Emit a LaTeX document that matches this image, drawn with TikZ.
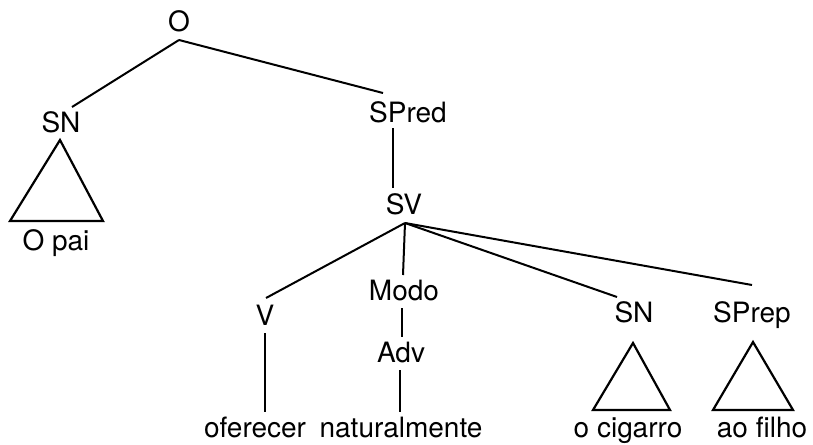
\documentclass[tikz,border=0pt]{standalone}
\usepackage{fontspec}
\setmainfont{TeX Gyre Heros}
\begin{document}
\begin{tikzpicture}[x=1pt,y=-1pt,
  lbl/.style={anchor=base,inner sep=0pt,font=\fontsize{28}{30}\selectfont},
  branch/.style={line width=2pt},
  tri/.style={line width=2.2pt,line join=miter}]
\useasboundingbox (0,0) rectangle (813,444);
% labels
\node[lbl] (O) at (179,32) {O};
\node[lbl] (SN1) at (61,132) {SN};
\node[lbl] (SPred) at (408,122) {SPred};
\node[lbl] (SV) at (404,214) {SV};
\node[lbl] (V) at (265,325) {V};
\node[lbl] (Modo) at (404,300) {Modo};
\node[lbl] (Adv) at (401,362) {Adv};
\node[lbl] (SN2) at (634,322) {SN};
\node[lbl] (SPrep) at (752,322) {SPrep};
\node[lbl] (Opai) at (56,250) {O pai};
\node[lbl] (oferecer) at (255,437) {oferecer};
\node[lbl] (naturalmente) at (401,437) {naturalmente};
\node[lbl] (cigarro) at (628,437) {o cigarro};
\node[lbl] (filho) at (762,437) {ao filho};
% connector end points
\coordinate (Ob) at (179,40);
\coordinate (SN1t) at (72,107);
\coordinate (SPredt) at (383,93);
\coordinate (SPredb) at (393,128);
\coordinate (SVt) at (393,188);
\coordinate (SVb) at (405,223);
\coordinate (Vt) at (266,298);
\coordinate (Modot) at (403,275);
\coordinate (SN2t) at (617,297);
\coordinate (SPrept) at (752,285);
\coordinate (Vb) at (265,333);
\coordinate (oferecert) at (265,412);
\coordinate (Modob) at (402,308);
\coordinate (Advt) at (402,337);
\coordinate (Advb) at (400,370);
\coordinate (naturalmentet) at (400,412);
% branches
\draw[branch] (Ob) -- (SN1t);
\draw[branch] (Ob) -- (SPredt);
\draw[branch] (SPredb) -- (SVt);
\draw[branch] (SVb) -- (Vt);
\draw[branch] (SVb) -- (Modot);
\draw[branch] (SVb) -- (SN2t);
\draw[branch] (SVb) -- (SPrept);
\draw[branch] (Vb) -- (oferecert);
\draw[branch] (Modob) -- (Advt);
\draw[branch] (Advb) -- (naturalmentet);
% triangles
\draw[tri] (60,140) -- (10,221) -- (103,221) -- cycle;
\draw[tri] (633,343) -- (593,410) -- (670,410) -- cycle;
\draw[tri] (753,342) -- (713,410) -- (793,410) -- cycle;
\end{tikzpicture}
\end{document}
